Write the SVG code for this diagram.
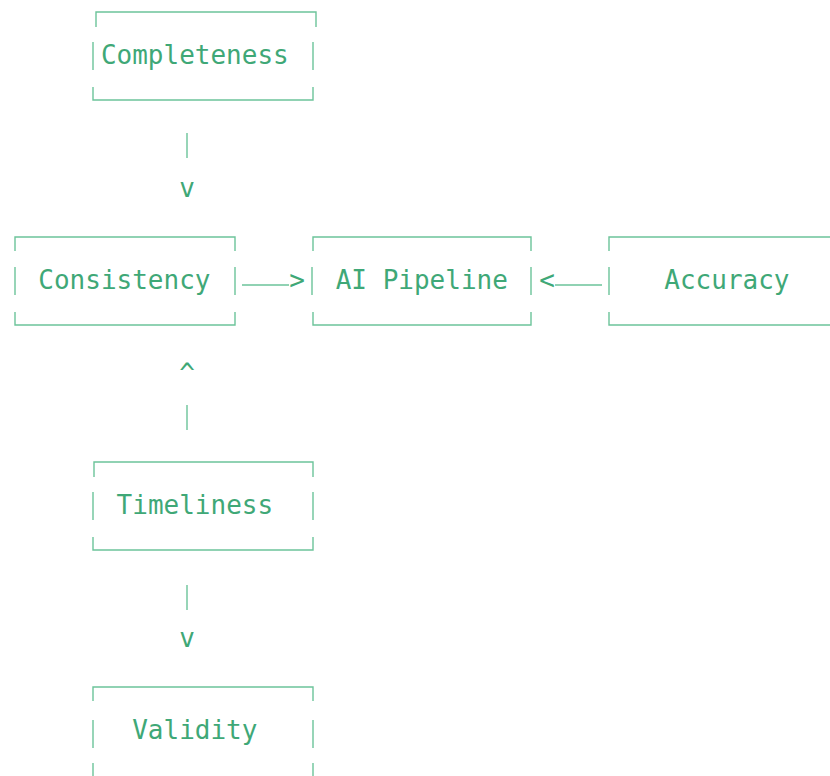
<svg xmlns="http://www.w3.org/2000/svg" width="830" height="776" viewBox="0 0 830 776">
<style>
.lbl{font-family:"DejaVu Sans Mono","Liberation Mono",monospace;font-size:26px;fill:#3fa877}
.bx{fill:none;stroke:#6cc49a;stroke-width:1.4}
.cn{fill:none;stroke:#6cc49a;stroke-width:1.4}
.ch{font-family:"DejaVu Sans Mono","Liberation Mono",monospace;font-size:26px;fill:#3fa877;text-anchor:middle}
</style>
<rect width="830" height="776" fill="#ffffff"/>
<g id="completeness">
<path class="bx" d="M96,27 V12 H316 V27 M93,42 V70 M313,42 V70 M93,87 V100 H313 V87"/>
<text class="lbl" x="100.9" y="64">Completeness</text>
</g>
<g id="consistency">
<path class="bx" d="M15,251 V237 H235 V251 M15,267 V295 M235,267 V295 M15,312 V325 H235 V312"/>
<text class="lbl" x="38.3" y="289">Consistency</text>
</g>
<g id="ai-pipeline">
<path class="bx" d="M313,251 V237 H531 V251 M312,267 V295 M531,267 V295 M313,312 V325 H531 V312"/>
<text class="lbl" x="335.7" y="289">AI Pipeline</text>
</g>
<g id="accuracy">
<path class="bx" d="M609,251 V237 H830 M609,267 V295 M609,312 V325 H830"/>
<text class="lbl" x="664.3" y="289">Accuracy</text>
</g>
<g id="timeliness">
<path class="bx" d="M94,477 V462 H313 V477 M93,492 V520 M313,492 V520 M93,537 V550 H313 V537"/>
<text class="lbl" x="116.6" y="514">Timeliness</text>
</g>
<g id="validity">
<path class="bx" d="M93,701 V687 H313 V701 M93,720 V748 M313,720 V748 M93,763 V776 M313,763 V776"/>
<text class="lbl" x="132.2" y="739">Validity</text>
</g>
<g id="connectors">
<path class="cn" d="M187,133 V158 M187,405 V430 M187,585 V610 M242,285 H289 M555,285 H602"/>
<text class="ch" x="187" y="197">v</text>
<text class="ch" x="187" y="382">^</text>
<text class="ch" x="187" y="647">v</text>
<text class="ch" x="297" y="289">&gt;</text>
<text class="ch" x="547" y="289">&lt;</text>
</g>
</svg>
